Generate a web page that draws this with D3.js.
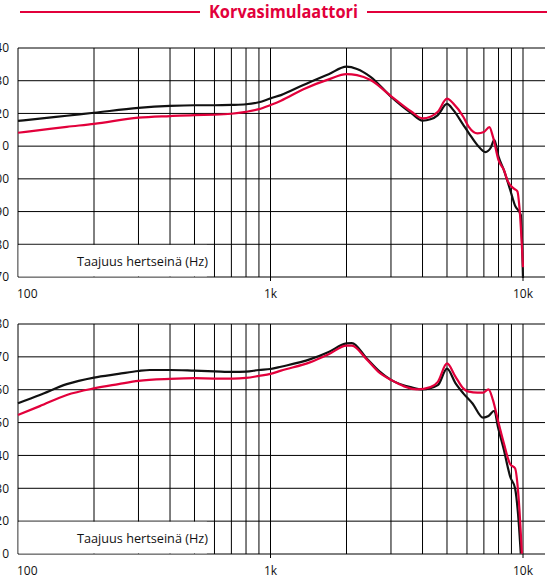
<!DOCTYPE html>
<html>
<head>
<meta charset="utf-8">
<script src="https://cdn.jsdelivr.net/npm/d3@7"></script>
<style>
  html, body { margin: 0; padding: 0; background: #fff; }
  svg { display: block; }
  text { font-family: "Open Sans", "Noto Sans", sans-serif; }
</style>
</head>
<body>
<svg id="chart" width="549" height="579"></svg>
<script>
// ---------------- DATA ----------------
const titleText = "Korvasimulaattori";
const axisLabel = "Taajuus hertseinä (Hz)";
const xTickLabels = [{f: 100, t: "100"}, {f: 1000, t: "1k"}, {f: 10000, t: "10k"}];
const gridFreqs = [200, 300, 400, 500, 600, 700, 800, 900, 1000,
                   2000, 3000, 4000, 5000, 6000, 7000, 8000, 9000, 10000];
const topTicks = [140, 130, 120, 110, 100, 90, 80, 70];
const bottomTicks = [80, 70, 60, 50, 40, 30, 20, 10];

// top panel – black curve
const topBlackFreq = [100, 122, 156, 200, 300, 400, 500, 600, 700, 800, 900, 1000, 1100, 1350, 1700, 2000, 2200, 2490, 3000, 3620, 4000, 4300, 4600, 5000, 5300, 5800, 6100, 6600, 7100, 7450, 7700, 8000, 8400, 8900, 9300, 9800, 10000];
const topBlackVal  = [117.7, 118.4, 119.3, 120.2, 121.7, 122.3, 122.5, 122.5, 122.6, 122.8, 123.4, 124.6, 125.6, 128.7, 132.0, 134.3, 133.6, 131.2, 125.1, 120.0, 117.8, 118.2, 119.5, 122.9, 121.0, 116.5, 114.0, 110.3, 108.2, 109.5, 111.9, 106.8, 102.7, 96.6, 91.8, 89.0, 69.7];
// top panel – red curve
const topRedFreq = [100, 122, 156, 200, 300, 400, 500, 600, 700, 800, 900, 1000, 1100, 1350, 1700, 2000, 2200, 2490, 3000, 3620, 4000, 4300, 4600, 5000, 5300, 5800, 6100, 6600, 7000, 7360, 7600, 8000, 8400, 8700, 9200, 9500, 9700, 10000];
const topRedVal  = [114.1, 114.9, 115.9, 116.8, 118.7, 119.2, 119.5, 119.6, 119.9, 120.5, 121.3, 122.6, 123.9, 127.4, 130.4, 132.0, 131.7, 130.2, 125.3, 120.5, 118.5, 119.0, 120.5, 124.5, 123.0, 119.0, 115.9, 113.9, 114.3, 115.8, 112.9, 105.7, 102.7, 99.3, 97.0, 96.2, 90.5, 73.0];

// bottom panel – black curve
const botBlackFreq = [100, 122, 156, 200, 250, 300, 333, 400, 500, 600, 710, 800, 900, 1000, 1100, 1440, 1700, 2000, 2100, 2400, 2700, 3000, 3620, 4000, 4600, 5000, 5400, 5800, 6300, 6950, 7300, 7700, 7950, 8400, 8700, 8900, 9300, 9600, 9800];
const botBlackVal  = [55.9, 58.4, 61.7, 63.7, 64.8, 65.7, 66.0, 66.0, 65.8, 65.6, 65.4, 65.5, 66.0, 66.3, 67.0, 69.3, 71.5, 74.1, 74.2, 69.6, 65.6, 63.0, 60.7, 60.1, 61.4, 66.4, 62.0, 58.9, 55.9, 51.5, 52.0, 53.6, 48.8, 41.7, 36.5, 33.5, 30.0, 20.4, 10.1];
// bottom panel – red curve
const botRedFreq = [100, 122, 156, 200, 250, 300, 400, 500, 600, 710, 800, 900, 1000, 1100, 1440, 1700, 2000, 2100, 2400, 2700, 3000, 3800, 4300, 4600, 5000, 5400, 5800, 6100, 6600, 6950, 7300, 7600, 7950, 8400, 8900, 9300, 9600, 9900];
const botRedVal  = [52.3, 55.0, 58.4, 60.4, 61.7, 62.7, 63.3, 63.5, 63.4, 63.4, 63.6, 64.2, 64.8, 65.8, 68.4, 70.8, 73.4, 73.4, 69.3, 65.2, 63.0, 60.1, 60.8, 62.4, 68.0, 64.0, 60.4, 59.4, 59.1, 59.1, 60.1, 56.9, 50.8, 43.7, 37.3, 36.1, 27.5, 10.1];

// ---------------- DRAWING ----------------
const RED = "#e2003b";
const svg = d3.select("#chart");

const x = d3.scaleLog().domain([100, 10000]).range([18, 523]);
const xRight = 545;

const panels = [
  { domain: [70, 140], range: [277, 48], ticks: topTicks,
    series: [[topBlackFreq, topBlackVal, "#111"], [topRedFreq, topRedVal, RED]] },
  { domain: [10, 80], range: [554, 324], ticks: bottomTicks,
    series: [[botBlackFreq, botBlackVal, "#111"], [botRedFreq, botRedVal, RED]] }
];

panels.forEach(p => {
  const y = d3.scaleLinear().domain(p.domain).range(p.range);
  const g = svg.append("g");
  const y0 = y(p.domain[0]), y1 = y(p.domain[1]);

  // horizontal grid
  g.selectAll("line.h").data(p.ticks).enter().append("line")
    .attr("x1", x(100)).attr("x2", xRight)
    .attr("y1", d => y(d)).attr("y2", d => y(d))
    .attr("stroke", "#000").attr("stroke-width", 1);

  // vertical grid
  g.selectAll("line.v").data(gridFreqs).enter().append("line")
    .attr("x1", d => x(d)).attr("x2", d => x(d))
    .attr("y1", y1).attr("y2", y0)
    .attr("stroke", "#000").attr("stroke-width", 1);

  // left border
  g.append("line").attr("x1", x(100)).attr("x2", x(100))
    .attr("y1", y1).attr("y2", y0).attr("stroke", "#000").attr("stroke-width", 1);

  // tick marks below axis
  g.selectAll("line.t").data([1000, 10000]).enter().append("line")
    .attr("x1", d => x(d)).attr("x2", d => x(d))
    .attr("y1", y0).attr("y2", y0 + 4)
    .attr("stroke", "#000").attr("stroke-width", 1);

  // label background box (hides grid in lowest band)
  const band = p.ticks[p.ticks.length - 2];
  g.append("rect")
    .attr("x", x(100) + 0.6).attr("y", y(band) + 0.6)
    .attr("width", x(560) - x(100) - 0.6).attr("height", y0 - y(band) - 1.2)
    .attr("fill", "#fff");

  g.append("text").text(axisLabel)
    .attr("x", 77).attr("y", y0 - 11)
    .attr("font-size", 13).attr("fill", "#111")
    .attr("textLength", 131).attr("lengthAdjust", "spacingAndGlyphs");

  // y tick labels
  g.selectAll("text.y").data(p.ticks).enter().append("text")
    .attr("x", 9).attr("y", d => y(d)).attr("dy", "0.36em")
    .attr("text-anchor", "end").attr("font-size", 12).attr("fill", "#111")
    .text(d => d);

  // x tick labels
  g.selectAll("text.x").data(xTickLabels).enter().append("text")
    .attr("x", d => d.f === 100 ? x(d.f) - 1 : x(d.f))
    .attr("y", y0 + 20.5)
    .attr("text-anchor", d => d.f === 100 ? "start" : "middle")
    .attr("font-size", 12).attr("fill", "#111")
    .text(d => d.t);

  // curves
  const line = d3.line()
    .x(d => x(d[0])).y(d => y(d[1]))
    .curve(d3.curveMonotoneX);
  p.series.forEach(([fr, vals, col]) => {
    const pts = fr.map((f, i) => [f, vals[i]]);
    g.append("path").datum(pts)
      .attr("d", line)
      .attr("fill", "none").attr("stroke", col)
      .attr("stroke-width", 2.2).attr("stroke-linejoin", "round");
  });
});

// title
const title = svg.append("text").text(titleText)
  .attr("x", 283.5).attr("y", 17.5).attr("text-anchor", "middle")
  .attr("font-size", 17).attr("font-weight", "bold").attr("fill", RED)
  .attr("textLength", 149).attr("lengthAdjust", "spacingAndGlyphs");
svg.append("line").attr("x1", 20).attr("x2", 200).attr("y1", 12).attr("y2", 12)
  .attr("stroke", RED).attr("stroke-width", 2);
svg.append("line").attr("x1", 367).attr("x2", 547).attr("y1", 12).attr("y2", 12)
  .attr("stroke", RED).attr("stroke-width", 2);
</script>
</body>
</html>
